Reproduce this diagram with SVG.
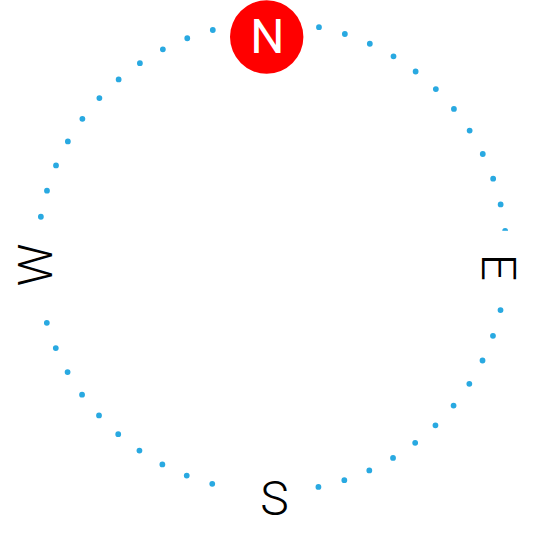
<svg xmlns="http://www.w3.org/2000/svg" width="535" height="535" viewBox="0 0 535 535">
  <style>
    .ring { fill: none; stroke: #29A9E1; stroke-width: 5.8; stroke-linecap: round; stroke-dasharray: 0 26.8; }
    .lbl { font-family: Roboto, "Liberation Sans", sans-serif; font-weight: 300; font-size: 48px; text-anchor: middle; fill: #000000; }
    .bg { fill: #ffffff; }
  </style>
  <rect width="535" height="535" fill="#ffffff"/>
  <g id="ring">
    <circle class="ring" cx="272" cy="257" r="234.6"/>
  </g>
  <g id="node-N">
    <circle cx="266.7" cy="37" r="36.7" fill="#FF0000"/>
    <text class="lbl" x="267.3" y="53.3" style="fill:#ffffff;font-weight:400">N</text>
  </g>
  <g id="node-E">
    <rect class="bg" x="476" y="230.8" width="46" height="58"/>
    <text class="lbl" transform="translate(482,267.5) rotate(90)" x="0" y="0">E</text>
  </g>
  <g id="node-S">
    <rect class="bg" x="228" y="477" width="78" height="50"/>
    <text class="lbl" x="274.5" y="514.5">S</text>
  </g>
  <g id="node-W">
    <rect class="bg" x="10" y="225" width="50" height="80"/>
    <text class="lbl" transform="translate(52,265) rotate(-90)" x="0" y="0">W</text>
  </g>
</svg>
